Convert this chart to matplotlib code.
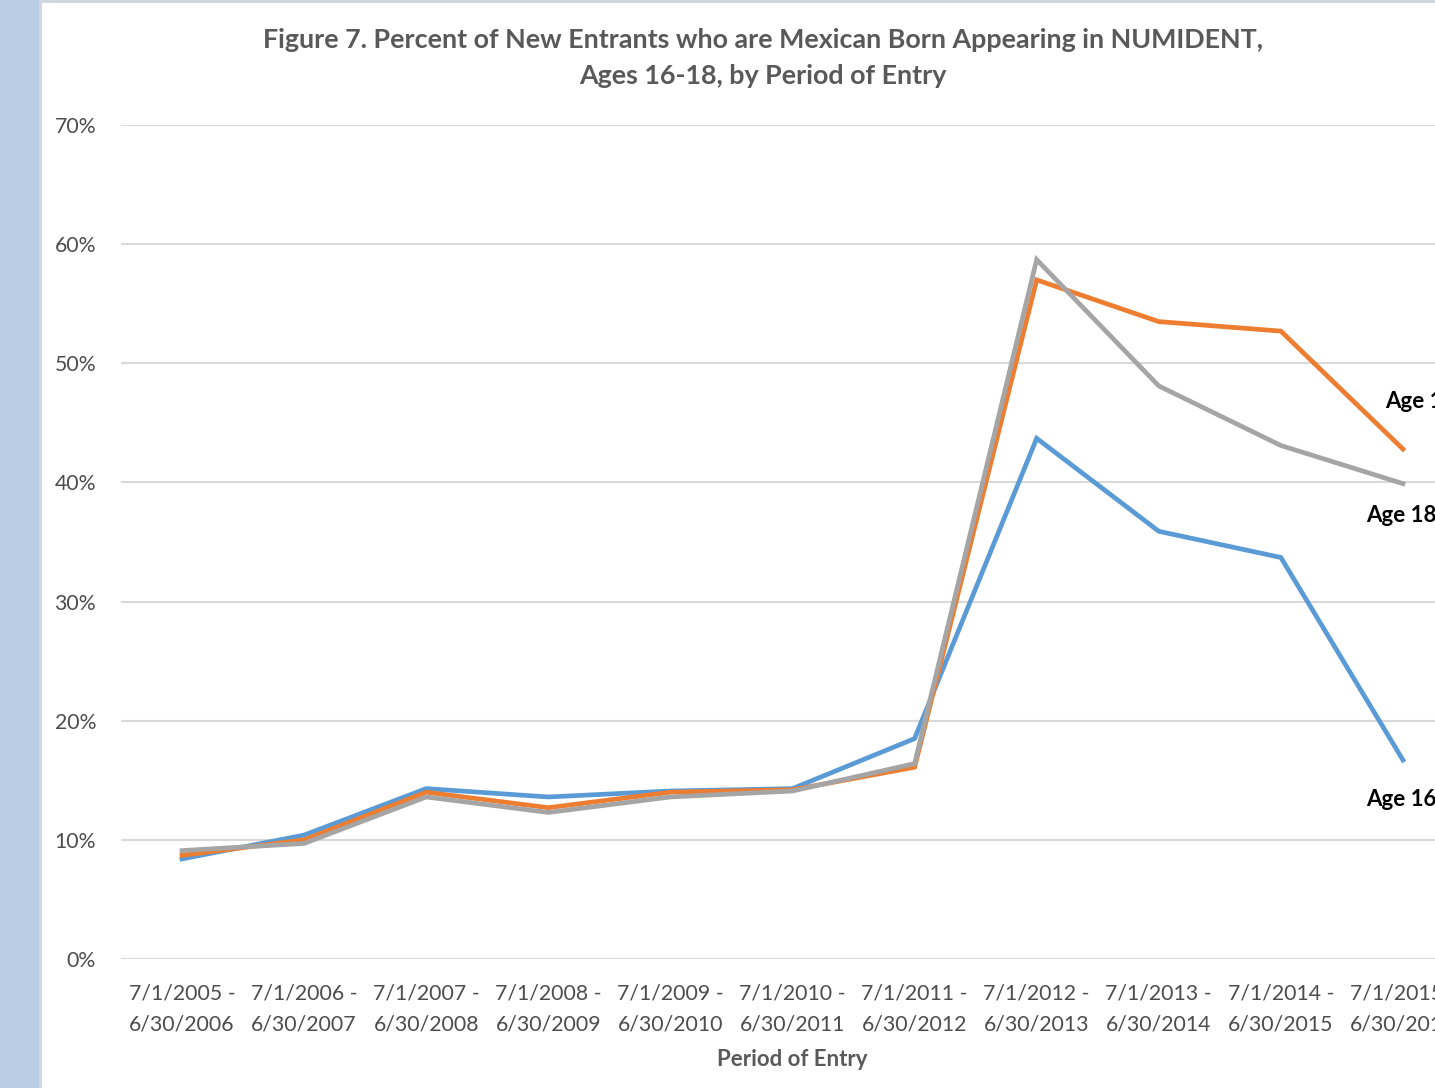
import matplotlib
matplotlib.use("Agg")
import matplotlib.pyplot as plt
from matplotlib.patches import Rectangle
import numpy as np

periods = [
    "7/1/2005 -\n6/30/2006", "7/1/2006 -\n6/30/2007", "7/1/2007 -\n6/30/2008",
    "7/1/2008 -\n6/30/2009", "7/1/2009 -\n6/30/2010", "7/1/2010 -\n6/30/2011",
    "7/1/2011 -\n6/30/2012", "7/1/2012 -\n6/30/2013", "7/1/2013 -\n6/30/2014",
    "7/1/2014 -\n6/30/2015", "7/1/2015 -\n6/30/2016",
]
age16 = [8.4, 10.4, 14.3, 13.6, 14.1, 14.3, 18.5, 43.7, 35.9, 33.7, 16.7]
age17 = [8.7, 10.0, 14.0, 12.7, 14.0, 14.2, 16.1, 57.0, 53.5, 52.7, 42.8]
age18 = [9.1, 9.7, 13.6, 12.3, 13.6, 14.1, 16.4, 58.7, 48.1, 43.1, 39.9]
yticks = [0, 10, 20, 30, 40, 50, 60, 70]

W, H = 1435, 1088
fig = plt.figure(figsize=(W / 100, H / 100), dpi=100)
fig.patch.set_facecolor("white")
plt.rcParams["font.family"] = ["Lato", "DejaVu Sans"]

# page background strip and chart frame
fig.add_artist(Rectangle((0, 0), 39 / W, 1, transform=fig.transFigure,
                         facecolor="#B9CDE5", edgecolor="none", zorder=0))
fig.add_artist(Rectangle((39 / W, 0), 2.5 / W, 1, transform=fig.transFigure,
                         facecolor="#D0D7DF", edgecolor="none", zorder=0))
fig.add_artist(Rectangle((39 / W, 1 - 2.5 / H), 1, 2.5 / H, transform=fig.transFigure,
                         facecolor="#D0D7DF", edgecolor="none", zorder=0))

left, right = 121, 1464
top, bottom = 125, 959
ax = fig.add_axes([left / W, (H - bottom) / H, (right - left) / W, (bottom - top) / H])
ax.set_facecolor("none")

x = np.arange(len(periods))
lw = 3.4
ax.plot(x, age16, color="#5B9BD5", lw=lw, solid_joinstyle="miter", zorder=3)
ax.plot(x, age17, color="#ED7D31", lw=lw, solid_joinstyle="miter", zorder=4)
ax.plot(x, age18, color="#A5A5A5", lw=lw, solid_joinstyle="miter", zorder=5)

ax.set_xlim(-0.5, len(periods) - 0.5)
ax.set_ylim(0, 70)
ax.set_yticks(yticks)
ax.set_yticklabels([f"{v}%" for v in yticks])
ax.set_xticks(x)
ax.set_xticklabels(periods, linespacing=1.68)
ax.grid(axis="y", color="#D9D9D9", lw=1.5, zorder=0)
for s in ax.spines.values():
    s.set_visible(False)
ax.tick_params(axis="both", length=0, colors="#4D4D4D", labelsize=15.3)
ax.tick_params(axis="y", pad=18)
ax.tick_params(axis="x", pad=18)

ax.set_xlabel("Period of Entry", fontsize=16, color="#595959", fontweight="bold")
ax.xaxis.set_label_coords((792 - left) / (right - left), -(1060 - bottom) / (bottom - top))
ax.xaxis.label.set_va("center")

fig.text(763 / W, 1 - 40 / H,
         "Figure 7. Percent of New Entrants who are Mexican Born Appearing in NUMIDENT,",
         ha="center", va="center", fontsize=19.4, fontweight="bold", color="#595959")
fig.text(763 / W, 1 - 76 / H, "Ages 16-18, by Period of Entry",
         ha="center", va="center", fontsize=19.4, fontweight="bold", color="#595959")

# series end labels
lab = dict(fontsize=16, fontweight="bold", color="black", va="center", ha="left")
fig.text(1385 / W, 1 - 402 / H, "Age 17", **lab)
fig.text(1366 / W, 1 - 515 / H, "Age 18", **lab)
fig.text(1366 / W, 1 - 800 / H, "Age 16", **lab)

fig.savefig("out.png", dpi=100)
